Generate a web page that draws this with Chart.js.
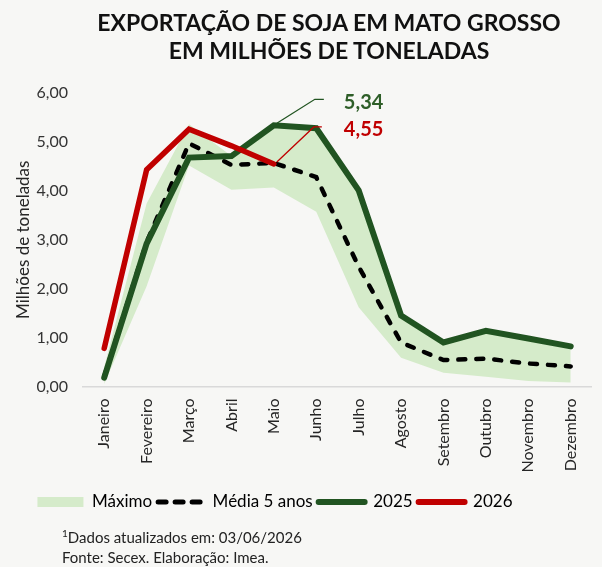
<!DOCTYPE html>
<html><head><meta charset="utf-8">
<script src="https://cdn.jsdelivr.net/npm/chart.js@4.4.1/dist/chart.umd.min.js"></script>
<style>
html,body{margin:0;padding:0;background:#f7f7f5;}
#wrap{position:relative;width:602px;height:567px;}
#c{position:absolute;left:0;top:0;}
#title{position:absolute;left:56px;width:546px;top:8px;text-align:center;font-family:Lato,sans-serif;font-weight:bold;font-size:23px;line-height:28px;color:#111;}
#note{position:absolute;left:62px;top:527px;font-family:Lato,sans-serif;font-size:15px;line-height:20px;color:#222;}
#note sup{font-size:10px;line-height:0;vertical-align:6px;}
</style></head>
<body><div id="wrap"><canvas id="c" width="602" height="567"></canvas>
<div id="title">EXPORTAÇÃO DE SOJA EM MATO GROSSO<br>EM MILHÕES DE TONELADAS</div>
<div id="note"><sup>1</sup>Dados atualizados em: 03/06/2026<br>Fonte: Secex. Elaboração: Imea.</div>
</div>
<script>
const categories = ['Janeiro','Fevereiro','Março','Abril','Maio','Junho','Julho','Agosto','Setembro','Outubro','Novembro','Dezembro'];
const minimo = [0.05, 2.05, 4.52, 4.02, 4.07, 3.57, 1.62, 0.59, 0.28, 0.20, 0.11, 0.08];
const maximo = [0.40, 3.74, 5.36, 4.71, 5.34, 5.28, 4.01, 1.45, 0.90, 1.14, 0.98, 0.82];
const media5anos = [0.20, 2.95, 4.97, 4.53, 4.57, 4.28, 2.45, 0.90, 0.54, 0.57, 0.47, 0.41];
const serie2025 = [0.18, 2.92, 4.68, 4.71, 5.34, 5.28, 4.01, 1.45, 0.90, 1.14, 0.98, 0.82];
const serie2026 = [0.78, 4.43, 5.26, 4.92, 4.55];
const yTicks = [0, 1, 2, 3, 4, 5, 6];

const BAND = '#d5ebca', GREEN = '#215421', RED = '#c00000', BLACK = '#000000';
const fmt = v => v.toFixed(2).replace('.', ',');

Chart.defaults.font.family = 'Lato';
Chart.defaults.color = '#262626';

const annotPlugin = {
  id: 'annot',
  afterLayout(chart) {
    // move the legend row left, as in the reference
    chart.legend.left -= 25;
    chart.legend.right -= 25;
  },
  afterDatasetsDraw(chart) {
    const ctx = chart.ctx;
    const items = [
      {ds: 3, color: GREEN, text: '#2e5e28', dx1: 41, dy1: -26, dx2: 50, tx: 70},
      {ds: 4, color: RED, text: RED, dx1: 40, dy1: -37, dx2: 48, tx: 70}
    ];
    items.forEach(it => {
      const meta = chart.getDatasetMeta(it.ds);
      const data = chart.data.datasets[it.ds].data;
      const idx = Math.min(4, data.length - 1);
      const p = meta.data[idx];
      ctx.save();
      ctx.strokeStyle = it.color;
      ctx.lineWidth = 1.3;
      ctx.beginPath();
      ctx.moveTo(p.x + 3, p.y - 2);
      ctx.lineTo(p.x + it.dx1, p.y + it.dy1);
      ctx.lineTo(p.x + it.dx2, p.y + it.dy1);
      ctx.stroke();
      ctx.fillStyle = it.text;
      ctx.font = 'bold 20px Lato';
      ctx.textBaseline = 'middle';
      ctx.textAlign = 'left';
      ctx.fillText(fmt(data[idx]), p.x + it.tx, p.y + it.dy1 + 3);
      ctx.restore();
    });
  }
};

new Chart(document.getElementById('c'), {
  type: 'line',
  data: {
    labels: categories,
    datasets: [
      {label: 'Mínimo', data: minimo, borderWidth: 0, pointRadius: 0, fill: false, order: 5, borderColor: 'rgba(0,0,0,0)'},
      {label: 'Máximo', data: maximo, borderWidth: 0, pointRadius: 0, fill: '-1', backgroundColor: BAND, borderColor: 'rgba(0,0,0,0)', order: 4},
      {label: 'Média 5 anos', data: media5anos, borderColor: BLACK, borderWidth: 4.5, borderDash: [7, 11], borderCapStyle: 'round', pointRadius: 0, fill: false, order: 3},
      {label: '2025', data: serie2025, borderColor: GREEN, borderWidth: 6, borderCapStyle: 'round', pointRadius: 0, fill: false, order: 2},
      {label: '2026', data: serie2026, borderColor: RED, borderWidth: 5.5, borderCapStyle: 'round', pointRadius: 0, fill: false, order: 1}
    ]
  },
  options: {
    responsive: false,
    animation: false,
    events: [],
    layout: {padding: {top: 93, right: 2, bottom: 46.5, left: 0}},
    elements: {line: {tension: 0}},
    scales: {
      x: {
        offset: true,
        grid: {display: false, drawTicks: false},
        border: {display: true, color: '#d9d9d9', width: 1.5},
        ticks: {minRotation: 90, maxRotation: 90, autoSkip: false, padding: 12, font: {size: 16}, color: '#262626'},
        afterFit(s) { s.height = 101; }
      },
      y: {
        min: yTicks[0], max: yTicks[yTicks.length - 1],
        afterBuildTicks(s) { s.ticks = yTicks.map(v => ({value: v})); },
        ticks: {padding: 15, font: {size: 16}, color: '#333', callback: v => fmt(v)},
        grid: {display: false, drawTicks: false},
        border: {display: false},
        title: {display: true, text: 'Milhões de toneladas', font: {size: 17}, color: '#262626', padding: {top: 13, bottom: 0}},
        afterFit(s) { s.width = 83; }
      }
    },
    plugins: {
      tooltip: {enabled: false},
      title: {display: false},
      legend: {
        position: 'bottom',
        labels: {
          usePointStyle: true,
          pointStyleWidth: 46,
          boxHeight: 10,
          padding: 6,
          font: {size: 17},
          color: '#222',
          generateLabels(chart) {
            const ds = chart.data.datasets;
            return [
              {text: ds[1].label, fillStyle: BAND, strokeStyle: BAND, lineWidth: 0, pointStyle: 'rect', datasetIndex: 1, hidden: false},
              {text: ds[2].label, fillStyle: 'rgba(0,0,0,0)', strokeStyle: BLACK, lineWidth: 5, lineDash: [8, 9], lineCap: 'round', pointStyle: 'line', datasetIndex: 2, hidden: false},
              {text: ds[3].label, fillStyle: 'rgba(0,0,0,0)', strokeStyle: GREEN, lineWidth: 6, lineCap: 'round', pointStyle: 'line', datasetIndex: 3, hidden: false},
              {text: ds[4].label, fillStyle: 'rgba(0,0,0,0)', strokeStyle: RED, lineWidth: 6, lineCap: 'round', pointStyle: 'line', datasetIndex: 4, hidden: false}
            ];
          }
        }
      }
    }
  },
  plugins: [annotPlugin]
});
</script>
</body></html>
